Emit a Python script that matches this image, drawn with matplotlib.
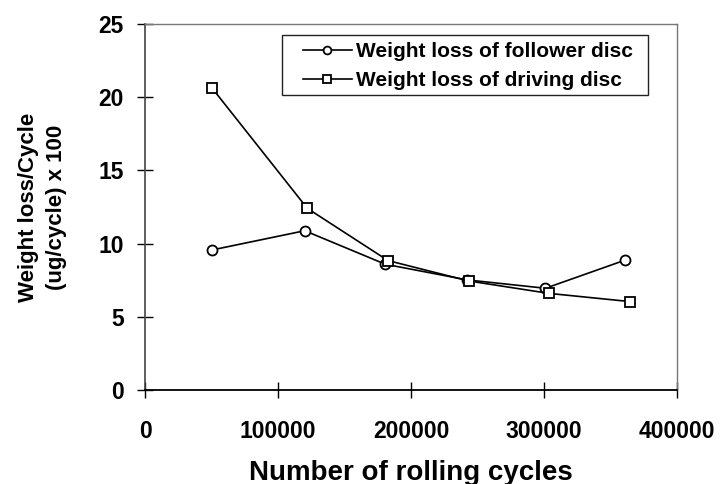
import matplotlib.pyplot as plt
from matplotlib.patches import Rectangle

plt.rcParams['font.family'] = ['Liberation Sans', 'DejaVu Sans']
plt.rcParams['font.weight'] = 'bold'

cycles_follower = [50100, 120100, 180700, 242200, 301100, 360600]
loss_follower = [9.56, 10.88, 8.59, 7.52, 6.95, 8.86]
cycles_driving = [50200, 122000, 182700, 243300, 303700, 364600]
loss_driving = [20.65, 12.41, 8.84, 7.45, 6.6, 6.04]

xticks = [0, 100000, 200000, 300000, 400000]
yticks = [0, 5, 10, 15, 20, 25]

fig = plt.figure(figsize=(7.2, 4.84), dpi=100)
ax = fig.add_axes([0.2014, 0.1942, 0.7389, 0.7562])

ax.plot(cycles_follower, loss_follower, '-o', color='black', lw=1.2,
        markersize=7.2, markerfacecolor='white', markeredgewidth=1.3,
        label='Weight loss of follower disc')
ax.plot(cycles_driving, loss_driving, '-s', color='black', lw=1.2,
        markersize=7.6, markerfacecolor='white', markeredgewidth=1.3,
        label='Weight loss of driving disc')

ax.set_xlim(0, 400000)
ax.set_ylim(0, 25)
ax.set_xticks(xticks)
ax.set_yticks(yticks)
ax.set_xticklabels([str(t) for t in xticks], fontsize=16.5, fontweight='bold')
ax.set_yticklabels([str(t) for t in yticks], fontsize=16.5, fontweight='bold')
ax.tick_params(direction='inout', length=11, width=1)
ax.tick_params(axis='x', pad=16)
ax.tick_params(axis='y', pad=9.7)

for s in ['top', 'right']:
    ax.spines[s].set_color('#777777')
    ax.spines[s].set_linewidth(1)
ax.spines['left'].set_color('#444444')
ax.spines['left'].set_linewidth(1.2)
ax.spines['bottom'].set_linewidth(1.3)

ax.set_xlabel('Number of rolling cycles', fontsize=20, fontweight='bold')
ax.xaxis.set_label_coords(0.5, -0.19)
ax.set_ylabel('Weight loss/Cycle\n(ug/cycle) x 100', fontsize=16, fontweight='bold',
              linespacing=1.45)
ax.yaxis.set_label_coords(-0.1466, 0.5)

# legend: text and handles without frame, plus a hand-placed box
ax.legend(loc='upper left', bbox_to_anchor=(0.297, 0.950), borderaxespad=0,
          borderpad=0, frameon=False, markerscale=0.78,
          handlelength=2.35, handletextpad=0.2, labelspacing=0.47,
          prop={'size': 15, 'weight': 'bold'})
ax.add_patch(Rectangle((0.2575, 0.806), 0.688, 0.164, transform=ax.transAxes,
                       fill=False, edgecolor='#222222', lw=1, zorder=5))

plt.savefig('out.png', dpi=100)
